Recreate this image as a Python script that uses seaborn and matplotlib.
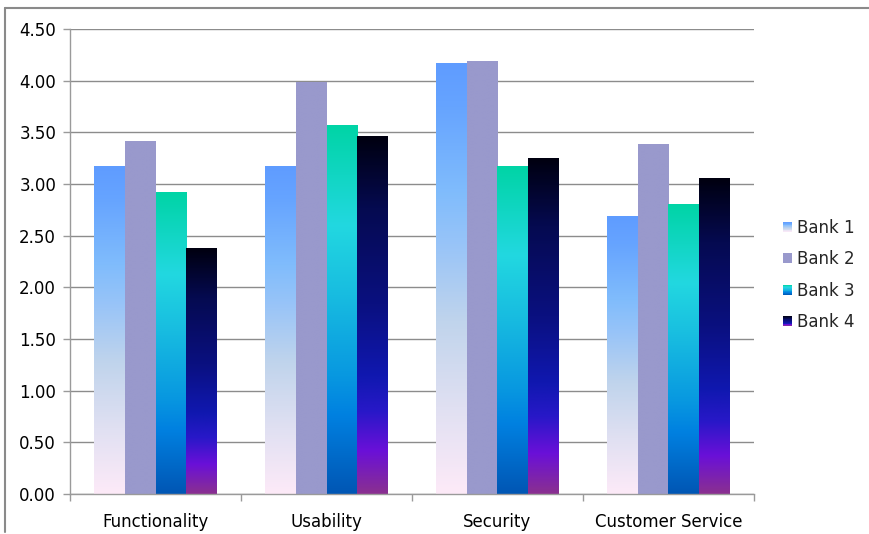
import numpy as np
import pandas as pd
import matplotlib
matplotlib.use("Agg")
import matplotlib.pyplot as plt
import seaborn as sns
from matplotlib.colors import LinearSegmentedColormap
from matplotlib.patches import Rectangle, Patch
from matplotlib.legend_handler import HandlerBase
from matplotlib.lines import Line2D
from matplotlib.ticker import FormatStrFormatter, FixedLocator

categories = ["Functionality", "Usability", "Security", "Customer Service"]
banks = ["Bank 1", "Bank 2", "Bank 3", "Bank 4"]
bank1 = [3.17, 3.17, 4.17, 2.69]
bank2 = [3.41, 3.98, 4.19, 3.38]
bank3 = [2.92, 3.57, 3.17, 2.80]
bank4 = [2.38, 3.46, 3.25, 3.05]
y_ticks = [0.0, 0.5, 1.0, 1.5, 2.0, 2.5, 3.0, 3.5, 4.0, 4.5]

sns.set_theme(style="white")
plt.rcParams["font.family"] = ["DejaVu Sans"]

df = pd.DataFrame({
    "category": categories * 4,
    "bank": [b for b in banks for _ in categories],
    "value": bank1 + bank2 + bank3 + bank4,
})

# gradient definitions (bottom -> top)
grad = {
    "Bank 1": [(0.0, "#fdeaf8"), (0.2, "#e0e0f2"), (0.4, "#c0d4ec"), (0.58, "#98c4f8"),
               (0.7, "#80bcfc"), (0.9, "#66a4ff"), (1.0, "#5f9cff")],
    "Bank 2": [(0.0, "#9999cc"), (1.0, "#9999cc")],
    "Bank 3": [(0.0, "#0056b4"), (0.21, "#0080e0"), (0.32, "#0898e0"), (0.54, "#18bce0"),
               (0.73, "#22d8e0"), (1.0, "#00d4a6")],
    "Bank 4": [(0.0, "#8a3090"), (0.12, "#6a10d8"), (0.23, "#2818c8"), (0.33, "#1018b0"),
               (0.53, "#0a1080"), (0.8, "#050a50"), (1.0, "#000010")],
}
cmaps = {b: LinearSegmentedColormap.from_list(b, grad[b]) for b in banks}

fig = plt.figure(figsize=(8.69, 5.34), dpi=100)
ax = fig.add_axes([70/869, 40/534, 684/869, 465/534])

sns.barplot(data=df, x="category", y="value", hue="bank", order=categories,
            hue_order=banks, width=0.725, ax=ax, legend=False,
            palette=[grad[b][-1][1] for b in banks], saturation=1, errorbar=None)

ax.set_ylim(0, 4.5)
ax.set_xlim(-0.5, 3.5)

img = np.linspace(0, 1, 256).reshape(-1, 1)
for b, cont in zip(banks, ax.containers):
    for p in cont.patches:
        x0 = p.get_x(); w = p.get_width(); h = p.get_height()
        p.set_facecolor("none"); p.set_edgecolor("none")
        ax.imshow(img, cmap=cmaps[b], extent=[x0, x0 + w, 0, h], origin="lower",
                  aspect="auto", zorder=2, interpolation="bilinear")
ax.set_ylim(0, 4.5)
ax.set_xlim(-0.5, 3.5)
ax.set_aspect("auto")

# axes styling
ax.set_axisbelow(True)
ax.yaxis.set_major_locator(FixedLocator(y_ticks))
ax.yaxis.set_major_formatter(FormatStrFormatter("%.2f"))
ax.grid(axis="y", color="#8c8c8c", linewidth=1.0)
for s in ["top", "right"]:
    ax.spines[s].set_visible(False)
for s in ["left", "bottom"]:
    ax.spines[s].set_color("#9a9a9a")
    ax.spines[s].set_linewidth(1.0)
ax.tick_params(axis="y", which="major", left=True, length=5, width=1, color="#9a9a9a",
               labelsize=12, pad=5, labelcolor="black")
ax.set_xticks(range(len(categories)))
ax.set_xticklabels(categories)
ax.set_xticks([-0.5, 0.5, 1.5, 2.5, 3.5], minor=True)
ax.tick_params(axis="x", which="major", length=0, labelsize=12, pad=14, labelcolor="black")
ax.tick_params(axis="x", which="minor", bottom=True, length=5, width=1, color="#9a9a9a")
ax.set_xlabel("")
ax.set_ylabel("")


class GradHandler(HandlerBase):
    def __init__(self, cmap):
        super().__init__()
        self.cmap = cmap

    def create_artists(self, legend, orig_handle, xdescent, ydescent, width, height,
                       fontsize, trans):
        n = 12
        arts = []
        for i in range(n):
            c = self.cmap((i + 0.5) / n)
            r = Rectangle((-xdescent, -ydescent + height * i / n), width, height / n + 0.05,
                          facecolor=c, edgecolor="none", transform=trans)
            arts.append(r)
        return arts


handles = [Patch(label=b) for b in banks]
hmap = {h: GradHandler(cmaps[b]) for h, b in zip(handles, banks)}
fig.legend(handles=handles, labels=banks, handler_map=hmap, loc="center left",
           bbox_to_anchor=(768/869, 1 - 275/534), frameon=False, fontsize=12,
           handlelength=0.55, handleheight=0.55, handletextpad=0.3, labelspacing=0.8)

# outer frame (top and left only)
fig.add_artist(Line2D([5/869, 1.0], [1 - 8/534, 1 - 8/534], transform=fig.transFigure,
                      color="#8a8a8a", linewidth=1.5))
fig.add_artist(Line2D([5/869, 5/869], [1 - 8/534, 2/534], transform=fig.transFigure,
                      color="#8a8a8a", linewidth=1.5))

fig.savefig("out.png", dpi=100)
